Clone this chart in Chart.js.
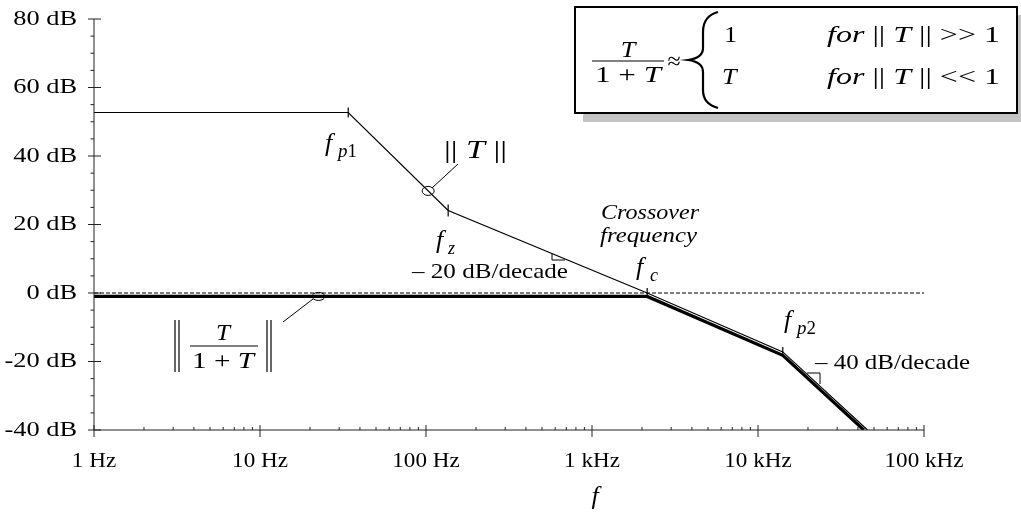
<!DOCTYPE html>
<html>
<head>
<meta charset="utf-8">
<script src="https://cdn.jsdelivr.net/npm/chart.js@4/dist/chart.umd.min.js"></script>
<style>
  html, body { margin: 0; padding: 0; background: #fff; }
  #wrap { width: 1021px; height: 517px; position: relative; }
</style>
</head>
<body>
<div id="wrap"><canvas id="bode"></canvas></div>
<script>
// loop gain ||T|| asymptotes (Hz, dB)
const freqT = [1, 34, 136, 2150, 14100, 45700];
const magT = [52.7, 52.7, 24.1, 0, -17.2, -40];
// closed loop ||T/(1+T)||
const freqCL = [1, 2150, 14100, 43400];
const magCL = [-1, -1, -18.2, -40];
// 0 dB reference
const freqZero = [1, 100000];
const magZero = [0, 0];
// little corner ticks on ||T|| (fp1, fz, fc, fp2)
const cornerMarks = [0, 5, 6, 5, 5, 0];
// circled spots on each curve
const markT = [103, 29.8];
const markCL = [22.5, -1];

const decades = [1, 10, 100, 1000, 10000, 100000];
const xTickLabels = ["1 Hz", "10 Hz", "100 Hz", "1 kHz", "10 kHz", "100 kHz"];
const yTicks = [-40, -20, 0, 20, 40, 60, 80];
const yTickLabels = ["-40 dB", "-20 dB", "0 dB", "20 dB", "40 dB", "60 dB", "80 dB"];

const SERIF = '"Liberation Serif", "Times New Roman", serif';
const font = (it, size) => (it ? "italic " : "") + size + "px " + SERIF;

// draw a row of text pieces, each [text, italic, sizeFactor, dy]
function runs(ctx, parts, x, y, size, opt = {}) {
  ctx.save();
  ctx.fillStyle = "#000";
  ctx.textBaseline = opt.base || "alphabetic";
  let w = 0;
  const ws = parts.map(p => {
    ctx.font = font(p[1], size * (p[2] || 1));
    const m = ctx.measureText(p[0]).width;
    w += m;
    return m;
  });
  const sx = opt.width ? opt.width / w : (opt.sx || 1.1);
  let x0 = x;
  if (opt.align === "center") x0 = x - w * sx / 2;
  if (opt.align === "right") x0 = x - w * sx;
  ctx.translate(x0, y);
  ctx.scale(sx, 1);
  let cx = 0;
  parts.forEach((p, i) => {
    ctx.font = font(p[1], size * (p[2] || 1));
    ctx.fillText(p[0], cx, p[3] || 0);
    cx += ws[i];
  });
  ctx.restore();
}

function seg(ctx, x1, y1, x2, y2, w = 1) {
  ctx.lineWidth = w;
  ctx.beginPath();
  ctx.moveTo(x1, y1);
  ctx.lineTo(x2, y2);
  ctx.stroke();
}

const bodeDecor = {
  id: "bodeDecor",
  afterDraw(chart) {
    const { ctx, chartArea: a, scales: { x, y } } = chart;
    ctx.save();
    ctx.strokeStyle = "#222";

    // axes
    seg(ctx, a.left, a.top, a.left, a.bottom);
    seg(ctx, a.left, a.bottom, a.right, a.bottom);

    // y ticks: majors across the axis, minors every 5 dB on the left
    for (let v = -40; v <= 80; v += 5) {
      const py = y.getPixelForValue(v);
      if (v % 20 === 0) seg(ctx, a.left - 6, py, a.left + 7, py);
      else seg(ctx, a.left - 3.5, py, a.left, py);
    }
    yTicks.forEach((v, i) => {
      runs(ctx, [[yTickLabels[i], false]], a.left - 17, y.getPixelForValue(v), 22, { align: "right", base: "middle", sx: 1.2 });
    });

    // x ticks: majors at decades, minors 2..9 above the axis
    decades.forEach((d, i) => {
      const px = x.getPixelForValue(d);
      seg(ctx, px, a.bottom - 5, px, a.bottom + 7);
      runs(ctx, [[xTickLabels[i], false]], px, 461, 21, { align: "center", base: "middle", sx: 1.1 });
      if (d < 100000) {
        for (let k = 2; k <= 9; k++) {
          const mx = x.getPixelForValue(d * k);
          seg(ctx, mx, a.bottom - 3, mx, a.bottom);
        }
      }
    });
    runs(ctx, [["f", true]], x.getPixelForValue(1000) + 3, 497, 26, { align: "center", base: "middle", sx: 1 });

    ctx.strokeStyle = "#000";
    // circled spots + leaders
    const ex = (f, db, rx, ry) => {
      ctx.lineWidth = 1;
      ctx.beginPath();
      ctx.ellipse(x.getPixelForValue(f), y.getPixelForValue(db), rx, ry, 0, 0, Math.PI * 2);
      ctx.stroke();
    };
    ex(markT[0], markT[1], 6, 4.5);
    ex(markCL[0], markCL[1], 6.5, 4);
    seg(ctx, 432, 188, 458, 164);
    seg(ctx, 283, 322, 313, 299);

    // slope triangles
    seg(ctx, 552, 254, 552, 260); seg(ctx, 552, 260, 565, 260);
    seg(ctx, 807, 373, 820, 373); seg(ctx, 820, 373, 820, 384);

    // curve annotations
    runs(ctx, [["f", true]], 325, 151, 26, { sx: 1 });
    runs(ctx, [["p", true], ["1", false]], 338, 157, 18, { sx: 1.05 });
    runs(ctx, [["|| ", false], ["T", true], [" ||", false]], 444, 158, 25, { width: 63 });
    runs(ctx, [["f", true]], 436, 248, 26, { sx: 1 });
    runs(ctx, [["z", true]], 448, 254, 18, { sx: 1 });
    runs(ctx, [["\u2013 20 dB/decade", false]], 412, 272, 21, { base: "middle", width: 156 });
    runs(ctx, [["Crossover", true]], 601, 213, 21, { base: "middle", width: 98 });
    runs(ctx, [["frequency", true]], 600, 236, 21, { base: "middle", width: 97 });
    runs(ctx, [["f", true]], 636, 275, 26, { sx: 1 });
    runs(ctx, [["c", true]], 650, 281, 18, { sx: 1 });
    runs(ctx, [["f", true]], 784, 328, 26, { sx: 1 });
    runs(ctx, [["p", true], ["2", false]], 797, 334, 18, { sx: 1.05 });
    runs(ctx, [["\u2013 40 dB/decade", false]], 815, 363, 21, { base: "middle", width: 155 });

    // ||T/(1+T)|| label
    seg(ctx, 175, 320, 175, 372, 1.2); seg(ctx, 179, 320, 179, 372, 1.2);
    seg(ctx, 267, 320, 267, 372, 1.2); seg(ctx, 271, 320, 271, 372, 1.2);
    runs(ctx, [["T", true]], 223, 340, 23, { align: "center", sx: 1.1 });
    seg(ctx, 190, 346, 258, 346, 1);
    runs(ctx, [["1 + ", false], ["T", true]], 223, 368, 23, { align: "center", width: 62 });

    // formula box with shadow
    ctx.fillStyle = "#c4c4c4";
    ctx.fillRect(583, 15, 440, 107);
    ctx.fillStyle = "#fff";
    ctx.fillRect(575, 7, 442, 106);
    ctx.lineWidth = 2;
    ctx.strokeRect(575, 7, 442, 106);
    runs(ctx, [["T", true]], 628, 57, 24, { align: "center", sx: 1.1 });
    seg(ctx, 592, 61, 664, 61, 1);
    runs(ctx, [["1 + ", false], ["T", true]], 628, 82, 24, { align: "center", width: 66 });
    runs(ctx, [["\u2248", false]], 674, 63, 24, { align: "center", base: "middle", sx: 1 });
    // brace
    ctx.lineWidth = 2.2;
    ctx.beginPath();
    ctx.moveTo(718, 12);
    ctx.quadraticCurveTo(703, 16, 703, 32);
    ctx.lineTo(703, 48);
    ctx.quadraticCurveTo(703, 58, 688, 60);
    ctx.quadraticCurveTo(703, 62, 703, 72);
    ctx.lineTo(703, 90);
    ctx.quadraticCurveTo(703, 104, 718, 108);
    ctx.stroke();
    runs(ctx, [["1", false]], 724, 42, 24, { sx: 1.1 });
    runs(ctx, [["T", true]], 722, 84, 24, { sx: 1.1 });
    runs(ctx, [["for ", true], ["|| ", false], ["T", true], [" || >> 1", false]], 827, 42, 24, { width: 173 });
    runs(ctx, [["for ", true], ["|| ", false], ["T", true], [" || << 1", false]], 827, 84, 24, { width: 173 });

    ctx.restore();
  }
};

const pts = (xs, ys) => xs.map((f, i) => ({ x: f, y: ys[i] }));

new Chart(document.getElementById("bode"), {
  type: "line",
  data: {
    datasets: [
      {
        data: pts(freqT, magT),
        borderColor: "#000", borderWidth: 1.2, tension: 0,
        pointStyle: "line", rotation: 90, pointRadius: cornerMarks,
        pointBorderColor: "#000", pointBorderWidth: 1.2,
        order: 0
      },
      {
        data: pts(freqCL, magCL),
        borderColor: "#000", borderWidth: 3.2, tension: 0, pointRadius: 0,
        order: 1
      },
      {
        data: pts(freqZero, magZero),
        borderColor: "#000", borderWidth: 1, borderDash: [4, 2], pointRadius: 0,
        order: 2
      }
    ]
  },
  options: {
    responsive: true,
    maintainAspectRatio: false,
    animation: false,
    layout: { padding: { top: 19, right: 97, bottom: 0, left: 0 } },
    plugins: { legend: { display: false }, tooltip: { enabled: false } },
    scales: {
      x: {
        type: "logarithmic", min: 1, max: 100000,
        grid: { display: false }, border: { display: false },
        ticks: { display: false },
        afterBuildTicks: s => { s.ticks = decades.map(v => ({ value: v })); },
        afterFit: s => { s.height = 87; }
      },
      y: {
        min: -40, max: 80,
        grid: { display: false }, border: { display: false },
        ticks: { display: false, stepSize: 20 },
        afterFit: s => { s.width = 94; }
      }
    }
  },
  plugins: [bodeDecor]
});
</script>
</body>
</html>
